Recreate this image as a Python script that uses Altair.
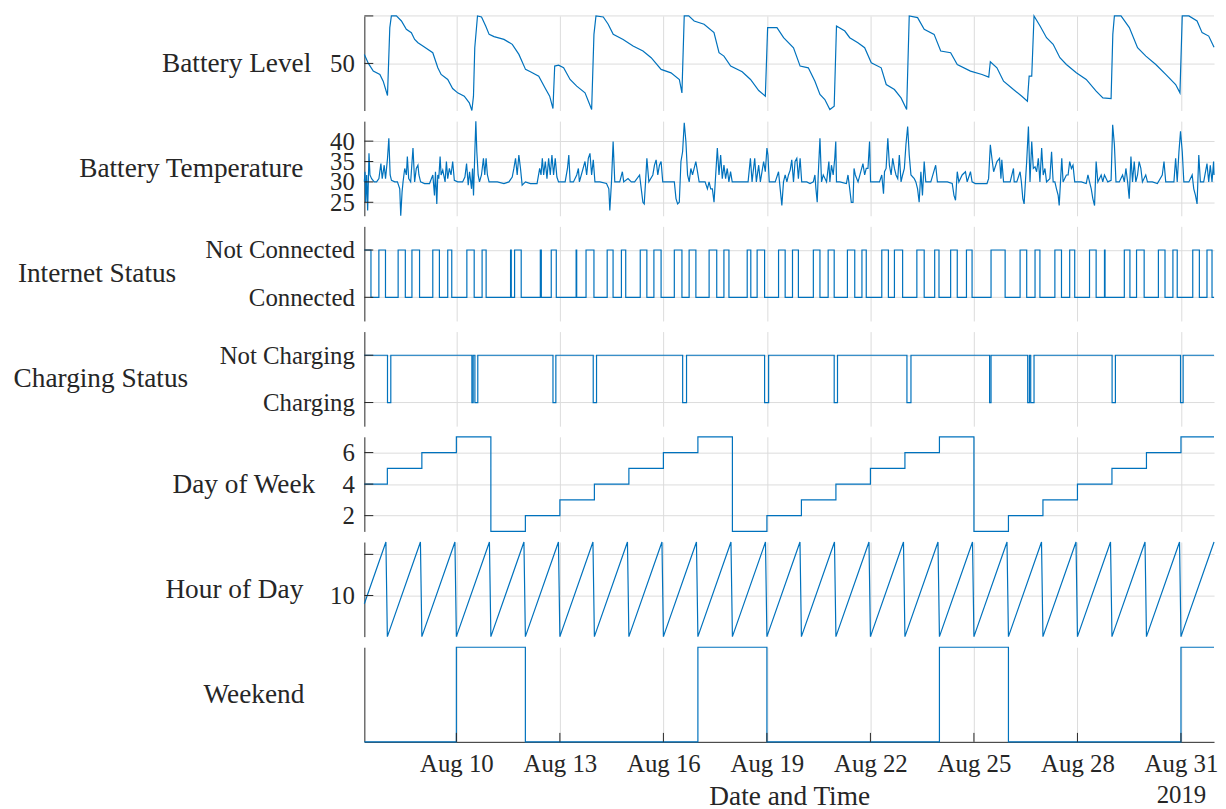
import altair as alt
import pandas as pd

# ---------------- data ----------------
START = "2019-08-07 08:00:00"
END_HOURS = 591.0

battery_hours = [
    0, 2.8, 6.2, 10.8, 13.1, 16.1, 17.7, 18.8, 22.3, 25.8,
    29.2, 32.7, 35.0, 37.3, 40.7, 47.6, 51.1, 53.4, 58.0, 61.4,
    64.9, 69.5, 73.0, 74.8, 75.9, 76.8, 78.7, 81.5, 84.4, 86.8,
    90.2, 97.1, 102.9, 107.5, 112.1, 115.5, 121.3, 125.9, 128.9, 131.2,
    132.4, 135.1, 138.6, 143.1, 147.7, 153.5, 158.1, 159.7, 161.1, 166.2,
    169.6, 173.1, 180.0, 186.9, 193.8, 199.5, 206.4, 213.3, 219.1, 220.9,
    222.5, 225.6, 229.4, 236.3, 243.2, 246.7, 250.1, 254.8, 262.8, 268.6,
    274.3, 278.9, 280.5, 287.0, 291.6, 298.5, 303.1, 308.8, 313.4, 316.9,
    320.3, 323.8, 326.8, 328.4, 334.2, 337.6, 343.3, 348.0, 352.6, 359.5,
    363.0, 368.7, 373.3, 377.2, 379.0, 384.8, 389.4, 396.3, 400.9, 407.8,
    412.4, 421.6, 429.6, 434.3, 435.4, 440.0, 444.6, 451.5, 457.3, 461.2,
    462.4, 464.2, 465.8, 470.0, 474.5, 479.1, 483.8, 488.3, 495.2, 502.1,
    509.0, 513.7, 519.4, 520.6, 521.7, 526.3, 532.1, 537.8, 543.6, 550.5,
    557.4, 564.3, 567.3, 568.9, 573.5, 579.2, 582.7, 587.3, 591.0]
battery_level = [
    59.5, 50, 41.9, 38.4, 31.3, 16.2, 87.7, 100, 100, 94.7,
    85.9, 82.4, 75.3, 71.8, 68.3, 61.3, 45.4, 38.4, 33.1, 23.6,
    19, 15.5, 8.5, 0.4, 15.5, 66.5, 100, 98.9, 89.4, 80.6,
    78.2, 75.3, 70.1, 59.5, 43.7, 41.2, 36.6, 23.6, 15.5, 2.5,
    47.2, 48.2, 45.4, 33.1, 26.1, 19, 1.4, 80.6, 100, 98.9,
    91.2, 80.6, 75.3, 68.3, 63, 56, 43.7, 40.1, 33.1, 19,
    100, 100, 94.7, 91.2, 82.4, 61.3, 57.7, 47.2, 41.2, 33.1,
    21.5, 15.5, 87.7, 87.7, 77.1, 66.5, 47.2, 45.4, 31.3, 17.3,
    12, 1.4, 4.9, 89.4, 84.1, 77.1, 71.8, 66.5, 50.7, 45.4,
    27.8, 22.5, 13.7, 1.4, 100, 98.2, 85.9, 80.6, 63, 61.3,
    48.9, 41.9, 38.4, 35.6, 51.8, 45.4, 31.3, 22.5, 15.5, 10.2,
    36.6, 36.6, 100, 89.4, 77.1, 70.1, 56, 48.9, 40.1, 33.1,
    20.8, 13.7, 13, 80.6, 100, 100, 87.7, 66.5, 57.7, 48.9,
    38.4, 27.8, 19, 100, 100, 94.7, 82.4, 78.8, 67]

temp_hours = [
    0.00, 0.46, 0.92, 1.61, 2.30, 3.22, 3.91, 5.06, 6.90, 8.52,
    10.13, 11.51, 12.43, 13.81, 14.73, 16.11, 17.03, 17.95, 18.87, 21.17,
    23.01, 24.62, 25.31, 26.23, 26.92, 28.07, 29.22, 29.91, 30.84, 32.22,
    33.83, 34.98, 36.13, 37.28, 37.97, 39.12, 41.88, 45.33, 47.63, 48.78,
    49.47, 50.39, 51.08, 51.77, 52.70, 53.39, 54.54, 56.15, 57.07, 57.99,
    59.14, 60.29, 61.44, 62.59, 64.89, 68.34, 69.95, 71.10, 72.25, 73.17,
    74.55, 75.24, 75.93, 76.86, 77.55, 78.24, 79.16, 80.08, 81.46, 82.84,
    83.76, 84.68, 85.60, 86.75, 92.50, 97.10, 100.56, 102.86, 104.01, 105.16,
    106.31, 107.46, 108.61, 109.76, 112.06, 115.51, 120.12, 121.96, 122.88, 123.80,
    124.72, 125.87, 127.02, 128.17, 129.32, 130.47, 131.62, 132.77, 133.92, 135.07,
    139.67, 141.29, 142.21, 143.13, 145.43, 147.73, 148.88, 149.57, 153.48, 154.63,
    155.78, 156.93, 158.08, 159.23, 160.38, 163.83, 168.44, 170.05, 170.74, 171.89,
    173.04, 174.19, 177.64, 179.48, 180.40, 183.39, 185.69, 187.99, 191.45, 192.60,
    193.75, 194.67, 195.59, 196.51, 197.89, 200.65, 201.80, 202.95, 204.10, 205.25,
    206.40, 207.55, 209.85, 215.61, 216.76, 217.91, 219.06, 220.21, 221.36, 222.51,
    223.66, 224.81, 225.96, 227.11, 228.26, 230.56, 231.71, 232.86, 235.16, 237.00,
    238.62, 239.77, 240.92, 242.07, 243.22, 244.37, 245.52, 246.67, 247.82, 248.97,
    250.12, 251.27, 252.42, 253.57, 254.72, 255.87, 258.17, 262.78, 266.92, 268.53,
    269.68, 271.52, 272.67, 274.28, 275.43, 277.73, 278.88, 280.03, 280.72, 281.64,
    285.79, 288.09, 289.24, 290.39, 291.54,
    292.7, 293.9, 295.0, 296.2, 297.3, 298.5, 299.6, 300.8, 301.9, 303.1,
    304.2, 305.4, 307.7, 310.0, 312.3, 313.4, 314.1, 315.0, 315.7, 316.9,
    318.0, 319.2, 321.5, 323.1, 323.8, 324.9, 326.1, 327.2, 327.9, 328.4,
    330.7, 335.3, 336.4, 337.6, 338.7, 339.9, 340.6, 341.5, 343.4, 346.8,
    348.0, 349.1, 350.3, 351.4, 352.1, 354.4, 358.3, 359.9, 361.1, 361.8,
    362.9, 364.1, 365.2, 366.4, 367.5, 368.7, 369.8, 371.0, 372.1, 373.3,
    374.4, 375.6, 376.7, 377.9, 379.0, 380.2, 382.5, 383.6, 384.8, 385.9,
    387.1, 388.2, 389.4, 390.5, 394.0, 397.4, 398.6, 400.9, 405.5, 408.9,
    410.1, 411.2, 412.4, 413.5, 415.8, 418.1, 419.3, 421.6, 422.7, 425.0,
    429.6, 433.1, 434.2, 435.4, 436.5, 437.7, 440.0, 441.8, 442.8, 443.4,
    444.6, 446.9, 449.2, 451.5, 452.0, 453.8, 456.1, 457.0, 458.0, 458.9,
    459.8, 460.7, 461.9, 463.0, 464.2, 465.3, 466.5, 467.6, 468.8, 469.9,
    471.1, 472.2, 473.4, 474.5, 476.8, 478.0, 479.1, 480.3, 481.4, 482.6,
    483.3, 484.2, 485.1, 486.0, 488.3, 489.5, 490.6, 491.8, 492.9, 494.1,
    496.4, 498.7, 502.1, 503.3, 504.4, 505.6, 506.7, 507.9, 509.0, 510.2,
    512.5, 513.6, 514.8, 517.1, 519.4, 520.5, 521.7, 522.8, 525.1, 527.4,
    528.6, 529.7, 530.9, 532.0, 533.2, 534.3, 535.5, 536.6, 537.8, 538.9,
    540.1, 541.2, 543.5, 544.7, 548.1, 551.6, 555.0, 556.2, 557.4, 559.7,
    563.1, 564.3, 565.4, 566.6, 567.7, 568.9, 570.0, 571.2, 573.5, 575.8,
    576.9, 578.1, 579.2, 580.4, 581.5, 583.8, 586.1, 587.3, 588.4, 589.6,
    590.7, 591.0]
temp_values = [
    30.0, 32.5, 25.0, 31.7, 23.0, 37.0, 31.7, 30.8, 30.0, 30.0,
    30.8, 34.5, 30.8, 34.1, 30.8, 35.8, 40.7, 31.7, 30.4, 30.0,
    30.0, 28.3, 21.7, 27.5, 30.0, 33.3, 31.7, 36.2, 30.8, 30.0,
    38.3, 30.0, 33.3, 34.1, 31.7, 30.0, 29.6, 29.6, 31.7, 26.7,
    32.5, 24.6, 31.7, 30.8, 36.2, 31.7, 32.9, 30.0, 35.0, 30.8,
    33.3, 31.7, 35.0, 30.4, 30.0, 30.0, 31.2, 34.5, 29.2, 32.5,
    28.3, 33.3, 26.7, 37.4, 44.9, 37.4, 31.7, 30.0, 31.7, 35.8,
    31.7, 35.8, 31.7, 30.0, 30.0, 29.6, 30.0, 31.2, 33.3, 35.8,
    31.7, 36.6, 33.3, 29.2, 30.0, 29.6, 29.6, 33.3, 31.7, 35.8,
    31.7, 35.0, 30.8, 35.8, 31.7, 36.6, 31.7, 35.8, 31.2, 30.0,
    30.0, 33.3, 36.6, 30.0, 30.0, 31.7, 33.3, 30.0, 35.0, 31.7,
    35.8, 37.0, 31.7, 35.4, 30.0, 30.0, 29.6, 28.3, 23.0, 30.0,
    39.9, 30.0, 30.0, 32.5, 30.0, 30.8, 30.0, 30.0, 31.7, 28.3,
    25.0, 24.6, 30.0, 35.8, 30.0, 31.7, 34.1, 35.4, 31.7, 34.1,
    35.0, 30.0, 30.0, 30.0, 25.9, 24.6, 25.0, 35.0, 37.4, 44.5,
    39.9, 31.7, 30.0, 33.3, 31.7, 35.0, 32.5, 30.0, 30.0, 30.0,
    28.3, 30.0, 28.3, 28.3, 25.0, 31.7, 38.3, 31.7, 36.6, 30.8,
    34.1, 30.8, 33.3, 30.0, 32.5, 30.0, 30.0, 30.0, 30.0, 35.8,
    30.0, 35.8, 30.0, 34.1, 30.0, 35.0, 32.5, 38.3, 36.6, 30.0,
    30.0, 32.5, 28.3, 24.2, 30.0,
    31.7, 30.0, 31.7, 32.9, 35.4, 30.0, 35.0, 35.8, 30.8, 35.8,
    30.0, 30.0, 30.0, 29.6, 30.0, 31.7, 28.3, 25.0, 31.7, 40.7,
    30.0, 31.7, 30.0, 35.0, 30.0, 34.1, 31.7, 35.8, 39.9, 30.0,
    30.0, 29.6, 31.7, 28.3, 25.0, 25.0, 33.3, 31.7, 30.0, 34.5,
    31.7, 33.3, 33.3, 39.9, 30.0, 30.0, 30.0, 31.7, 27.1, 32.5,
    33.3, 40.7, 34.1, 31.7, 35.8, 33.3, 31.7, 30.8, 36.6, 30.0,
    31.7, 33.3, 39.1, 43.6, 36.6, 31.7, 30.8, 30.0, 28.3, 25.0,
    32.5, 26.7, 35.0, 30.0, 30.0, 34.1, 30.0, 30.0, 30.0, 29.6,
    26.7, 25.5, 32.5, 30.0, 31.7, 32.5, 30.0, 32.5, 30.0, 29.6,
    29.6, 29.6, 30.8, 39.1, 35.8, 32.5, 35.0, 35.8, 30.8, 35.4,
    30.0, 30.0, 30.0, 33.3, 30.0, 30.0, 32.5, 30.0, 25.9, 24.6,
    30.0, 35.0, 43.6, 30.0, 39.9, 33.3, 33.7, 32.5, 35.8, 30.0,
    38.3, 31.7, 33.3, 30.0, 30.8, 37.4, 30.0, 30.0, 28.3, 26.7,
    24.2, 30.0, 35.8, 30.0, 31.7, 31.7, 35.0, 33.3, 34.1, 30.0,
    30.0, 30.0, 29.6, 31.7, 30.0, 28.3, 25.9, 24.2, 35.0, 30.0,
    31.7, 30.0, 31.7, 30.0, 30.4, 44.0, 39.1, 30.0, 30.0, 31.7,
    30.0, 33.3, 30.0, 25.9, 36.2, 30.0, 35.0, 30.0, 31.7, 35.0,
    33.3, 30.0, 31.7, 30.0, 30.0, 29.6, 31.7, 35.0, 30.0, 30.0,
    30.0, 35.8, 30.0, 37.4, 42.4, 37.4, 30.0, 30.0, 30.0, 31.7,
    28.3, 26.7, 24.6, 36.6, 30.0, 30.0, 34.5, 30.0, 34.1, 30.0,
    35.0, 31.7]

internet_hours = [
    0, 4.6, 10.1, 14.7, 23.5, 28.5, 33.1, 38.4, 47.6, 52.2,
    58.0, 60.8, 71.3, 76.4, 81.9, 84.7, 101.7, 102.2, 104.5, 109.1,
    122.4, 123.1, 130.0, 133.5, 147.3, 147.7, 154.2, 159.7, 168.9, 173.0,
    178.8, 181.8, 191.9, 196.5, 201.4, 206.4, 215.6, 220.9, 225.9, 230.6,
    239.8, 245.1, 250.1, 253.6, 266.3, 268.8, 273.2, 278.4, 288.1, 292.7,
    297.8, 301.9, 312.3, 316.9, 322.6, 326.8, 336.0, 341.1, 346.1, 349.1,
    359.9, 364.5, 368.7, 374.4, 384.3, 389.4, 396.7, 399.7, 407.8, 412.4,
    418.8, 422.7, 435.9, 445.7, 456.1, 460.7, 466.5, 469.9, 480.3, 484.9,
    490.6, 494.1, 504.4, 509.0, 514.8, 515.2, 528.6, 532.5, 537.1, 542.4,
    552.3, 556.9, 562.4, 565.4, 576.2, 580.8, 586.1, 589.6, 591.0]
internet_states = ["Not Connected", "Connected"]

charging_hours = [
    0, 16.1, 18.4, 74.8, 75.7, 76.9, 78.9, 131.2, 133.2, 159.2,
    161.5, 221.4, 224.1, 278.4, 281.2, 326.8, 329.1, 377.4, 380.2, 434.9,
    435.9, 461.4, 462.6, 463.5, 465.8, 520.1, 522.4, 567.7, 569.5, 591.0]
charging_states = ["Not Charging", "Charging"]

days = ["2019-08-%02d" % d for d in range(7, 32)]
day_of_week = [4, 5, 6, 7, 1, 2, 3, 4, 5, 6, 7, 1, 2, 3, 4, 5, 6, 7, 1, 2, 3, 4, 5, 6, 7]
weekend = [0, 0, 0, 1, 1, 0, 0, 0, 0, 0, 1, 1, 0, 0, 0, 0, 0, 1, 1, 0, 0, 0, 0, 0, 1]
hour_first = [8, 0, 0, 0, 0, 0, 0, 0, 0, 0, 0, 0, 0, 0, 0, 0, 0, 0, 0, 0, 0, 0, 0, 0, 0]
hour_last = [23, 23, 23, 23, 23, 23, 23, 23, 23, 23, 23, 23, 23, 23, 23, 23, 23, 23, 23, 23, 23, 23, 23, 23, 23]

x_tick_days = [10, 13, 16, 19, 22, 25, 28, 31]

# ---------------- tables ----------------
assert len(battery_hours) == len(battery_level)
assert len(temp_hours) == len(temp_values)
start = pd.Timestamp(START)


def times(hours):
    return start + pd.to_timedelta(pd.Series(hours, dtype=float), unit="h")


battery_df = pd.DataFrame({"time": times(battery_hours), "value": battery_level})
temp_df = pd.DataFrame({"time": times(temp_hours), "value": temp_values})


def alternating(hours, pair):
    states = []
    k = 0
    for i in range(len(hours)):
        states.append(pair[k])
        if i < len(hours) - 2:
            k = 1 - k
    return states


internet_df = pd.DataFrame({"time": times(internet_hours),
                            "value": alternating(internet_hours, internet_states)})
charging_df = pd.DataFrame({"time": times(charging_hours),
                            "value": alternating(charging_hours, charging_states)})

day_starts = [pd.Timestamp(d) for d in days]
day_starts[0] = start
end = start + pd.Timedelta(hours=END_HOURS)
dow_df = pd.DataFrame({"time": day_starts + [end], "value": day_of_week + [day_of_week[-1]]})
wk_df = pd.DataFrame({"time": day_starts + [end], "value": weekend + [weekend[-1]]})

h_t, h_v = [], []
for d, a, b in zip(days, hour_first, hour_last):
    h_t += [pd.Timestamp(d) + pd.Timedelta(hours=a), pd.Timestamp(d) + pd.Timedelta(hours=b)]
    h_v += [a, b]
hour_df = pd.DataFrame({"time": h_t, "value": h_v})

# ---------------- styling ----------------
W = 856
H = 95.3
BLUE = "#0072BD"
INK = "#262626"
GRID = "#dcdcdc"
FONT = "Liberation Serif"

x_dom = [alt.DateTime(year=2019, month=8, date=7, hours=8),
         alt.DateTime(year=2019, month=8, date=31, hours=23)]
x_ticks = [alt.DateTime(year=2019, month=8, date=d) for d in x_tick_days]
x_scale = alt.Scale(domain=x_dom, nice=False)


def xenc(bottom):
    if bottom:
        axis = alt.Axis(values=x_ticks, format="%b %d", grid=True, domain=True, ticks=False,
                        labelExpr="date(datum.value) == 31 ? [datum.label, '2019'] : datum.label",
                        labelLineHeight=31, labelPadding=10, labelFlush=False, labelOverlap=False,
                        title="Date and Time", titleY=55, titleBaseline="middle")
    else:
        axis = alt.Axis(values=x_ticks, grid=True, domain=False, ticks=False, labels=False, title=None)
    return alt.X("time:T", scale=x_scale, axis=axis)


def yaxis(title, tx, **kw):
    return alt.Axis(title=title, titleAngle=0, titleAlign="right", titleBaseline="middle",
                    titleX=tx, titleY=H / 2, ticks=False, labelPadding=10, labelOverlap=False, **kw)


def panel(df, y, tick_vals=None, interp="linear", bottom=False, top_grid=None):
    layers = []
    if top_grid is not None:
        gdf = pd.DataFrame({"value": [top_grid]})
        layers.append(alt.Chart(gdf).mark_rule(color=GRID, strokeWidth=1)
                      .encode(x=alt.value(0), x2=alt.value(W), y=y))
    layers.append(alt.Chart(df).mark_line(color=BLUE, strokeWidth=1.2, interpolate=interp)
                  .encode(x=xenc(bottom), y=y))
    if tick_vals is not None:
        tdf = pd.DataFrame({"value": tick_vals})
        layers.append(alt.Chart(tdf).mark_rule(color=INK, strokeWidth=1)
                      .encode(x=alt.value(0), x2=alt.value(9), y=y))
    if bottom:
        xdf = pd.DataFrame({"time": [pd.Timestamp(2019, 8, d) for d in x_tick_days]})
        layers.append(alt.Chart(xdf).mark_rule(color=INK, strokeWidth=1)
                      .encode(x=xenc(True), y=alt.value(H), y2=alt.value(H - 9)))
    return alt.layer(*layers).properties(width=W, height=H)


p1 = panel(battery_df, alt.Y("value:Q", scale=alt.Scale(nice=False, zero=False),
                             axis=yaxis("Battery Level", -54, values=[50], grid=True)),
           tick_vals=[50, 100], top_grid=100)
p2 = panel(temp_df, alt.Y("value:Q", scale=alt.Scale(nice=False, zero=False),
                          axis=yaxis("Battery Temperature", -62, values=[25, 30, 35, 40], grid=True)),
           tick_vals=[25, 30, 35, 40])
p3 = panel(internet_df, alt.Y("value:N", scale=alt.Scale(type="point", domain=internet_states, padding=0.5),
                              axis=yaxis("Internet Status", -190, grid=True)),
           tick_vals=internet_states, interp="step-after")
p4 = panel(charging_df, alt.Y("value:N", scale=alt.Scale(type="point", domain=charging_states, padding=0.5),
                              axis=yaxis("Charging Status", -178, grid=True)),
           tick_vals=charging_states, interp="step-after")
p5 = panel(dow_df, alt.Y("value:Q", scale=alt.Scale(domain=[1, 7], nice=False, zero=False),
                         axis=yaxis("Day of Week", -50, values=[2, 4, 6], grid=True)),
           tick_vals=[2, 4, 6], interp="step-after")
p6 = panel(hour_df, alt.Y("value:Q", scale=alt.Scale(domain=[0, 23], nice=False, zero=False),
                          axis=yaxis("Hour of Day", -62, values=[10, 20], grid=True,
                                     labelExpr="datum.value == 10 ? '10' : ''")),
           tick_vals=[10, 20])
p7 = panel(wk_df, alt.Y("value:Q", scale=alt.Scale(domain=[0, 1], nice=False, zero=False),
                        axis=yaxis("Weekend", -61, labels=False, grid=False)),
           interp="step-after", bottom=True)

chart = (
    alt.vconcat(p1, p2, p3, p4, p5, p6, p7, spacing=10, bounds="flush")
    .resolve_scale(x="independent", y="independent")
    .properties(padding={"left": 5, "top": 2, "right": 0, "bottom": 0})
    .configure_view(stroke=None)
    .configure_axis(labelFont=FONT, labelFontSize=25, labelColor=INK,
                    titleFont=FONT, titleFontSize=27.5, titleColor=INK, titleFontWeight="normal",
                    domainColor=INK, domainWidth=1, gridColor=GRID, gridWidth=1)
)

chart.save("out.html", embed_options={"renderer": "svg", "actions": False})
